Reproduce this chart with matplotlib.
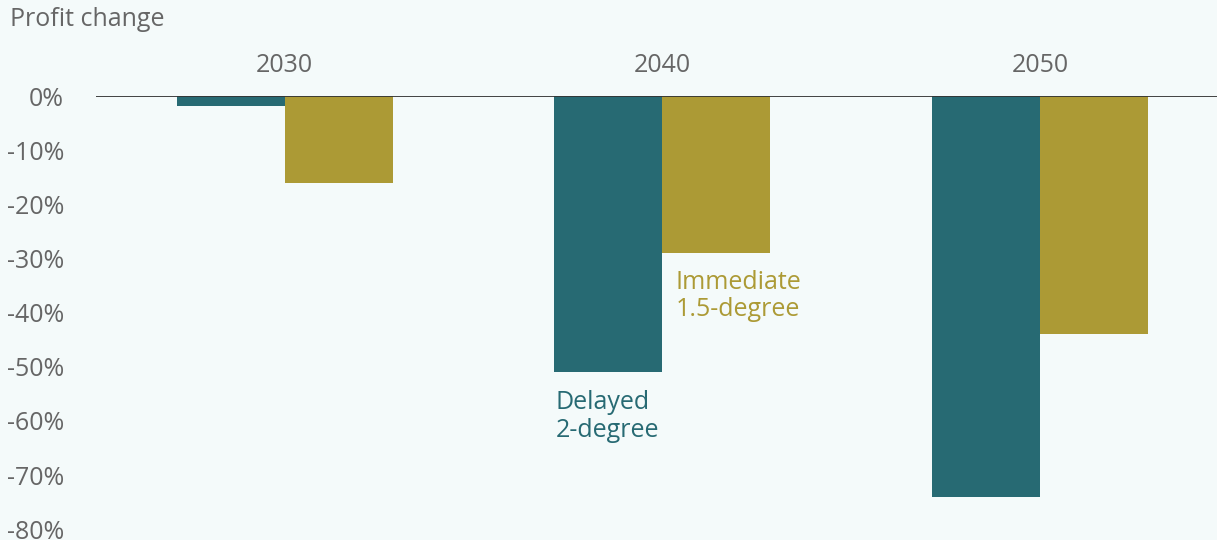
import matplotlib

matplotlib.use("Agg")
import matplotlib.pyplot as plt
import numpy as np

years = ["2030", "2040", "2050"]
delayed = [-1.8, -51, -74]      # Delayed 2-degree, % profit change
immediate = [-16, -29, -44]     # Immediate 1.5-degree
yticks = [0, -10, -20, -30, -40, -50, -60, -70, -80]

TEAL = "#276A73"
OLIVE = "#AC9A35"
BG = "#F4FAFA"
GREY = "#666666"
FS = 18

plt.rcParams["font.family"] = ["Open Sans", "DejaVu Sans"]

fig = plt.figure(figsize=(12.17, 5.4), dpi=100, facecolor=BG)
ax = fig.add_axes([96 / 1217, 0, 1 - 96 / 1217, 1 - 96 / 540])
ax.set_facecolor(BG)

x = np.arange(len(years))
width = 0.286
ax.bar(x - width / 2, delayed, width, color=TEAL)
ax.bar(x + width / 2, immediate, width, color=OLIVE)
ax.axhline(0, color="#333333", linewidth=1.3)

ax.set_xlim(-0.5, 2.469)
ax.set_ylim(-82, 0)
ax.set_yticks(yticks)
ax.set_yticklabels([f"{v}%" for v in yticks])
ax.tick_params(axis="y", length=0, pad=23, labelsize=FS, labelcolor=GREY)
ax.set_xticks([])
for side in ["top", "right", "bottom", "left"]:
    ax.spines[side].set_visible(False)

for xi, year in zip(x, years):
    ax.text(xi, 5.7, year, ha="center", va="center", fontsize=FS,
            color=GREY, clip_on=False)

fig.text(10 / 1217, 1 - 19 / 540, "Profit change", ha="left", va="center",
         fontsize=FS, color=GREY)

# direct labels beside the 2040 bars
ax.text(1 + 0.036, immediate[1] - 8.0, "Immediate\n1.5-degree", ha="left",
        va="center", fontsize=FS, color=OLIVE, linespacing=1.12)
ax.text(1 - width + 0.003, delayed[1] - 8.2, "Delayed\n2-degree", ha="left",
        va="center", fontsize=FS, color=TEAL, linespacing=1.12)

fig.savefig("out.png", dpi=100, facecolor=BG)
